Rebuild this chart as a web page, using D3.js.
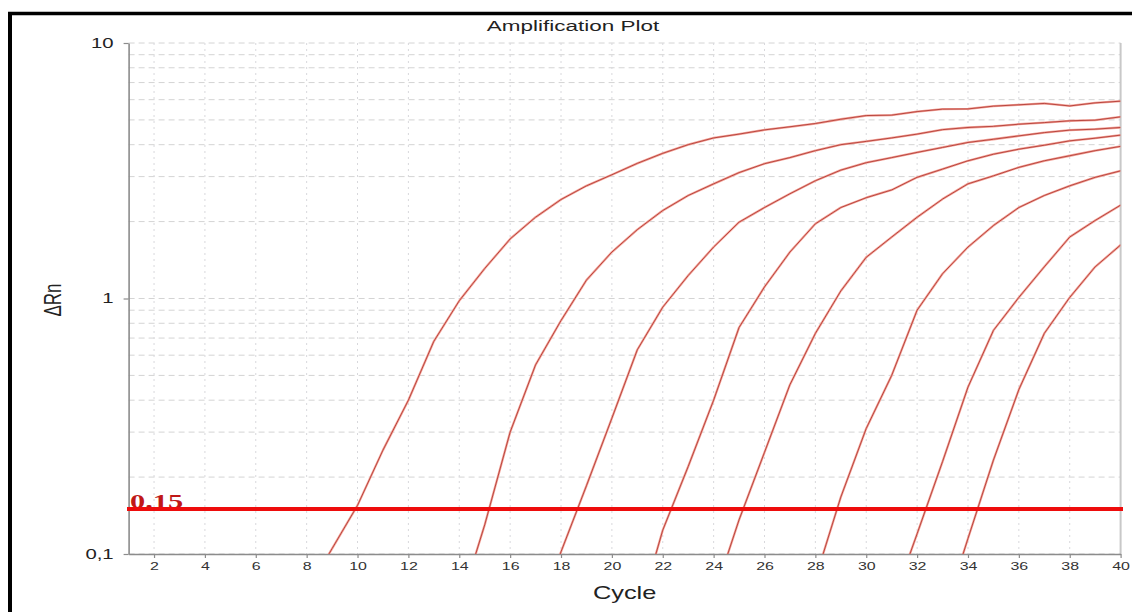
<!DOCTYPE html>
<html><head><meta charset="utf-8">
<script src="https://cdn.jsdelivr.net/npm/d3@7"></script>
<style>body{margin:0;background:#fff}svg{display:block}</style>
</head><body><svg id="c" width="1132" height="612"></svg>
<script>
// ---- data ----
const chartTitle = "Amplification Plot";
const xLabel = "Cycle";
const yLabel = "ΔRn";
const xTicks = [2,4,6,8,10,12,14,16,18,20,22,24,26,28,30,32,34,36,38,40];
const yTicks = [0.1, 1, 10];
const yTickLabels = ["0,1", "1", "10"];
const threshold = 0.15;
const thresholdLabel = "0.15";
const startCycles = [8, 14, 17, 21, 24, 28, 31, 33];
const well1 = [0.071,0.105,0.155,0.255,0.40,0.68,0.98,1.31,1.71,2.08,2.44,2.76,3.05,3.38,3.70,4.00,4.25,4.40,4.57,4.70,4.84,5.03,5.20,5.22,5.39,5.51,5.52,5.66,5.73,5.80,5.67,5.83,5.92];
const well2 = [0.062,0.13,0.30,0.55,0.82,1.18,1.52,1.86,2.21,2.53,2.81,3.11,3.37,3.56,3.79,4.00,4.12,4.25,4.40,4.58,4.67,4.72,4.81,4.88,4.96,4.99,5.14];
const well3 = [0.055,0.102,0.185,0.34,0.63,0.925,1.23,1.59,1.99,2.27,2.57,2.89,3.18,3.40,3.56,3.73,3.90,4.08,4.20,4.33,4.46,4.56,4.60,4.67];
const well4 = [0.056,0.124,0.22,0.40,0.77,1.11,1.52,1.96,2.27,2.48,2.66,2.98,3.21,3.46,3.67,3.84,3.98,4.14,4.24,4.36];
const well5 = [0.068,0.136,0.25,0.46,0.73,1.07,1.45,1.74,2.08,2.45,2.81,3.02,3.26,3.46,3.62,3.79,3.94];
const well6 = [0.08,0.167,0.31,0.50,0.90,1.25,1.59,1.93,2.27,2.53,2.76,2.98,3.16];
const well7 = [0.063,0.12,0.23,0.45,0.75,1.01,1.33,1.74,2.02,2.32];
const well8 = [0.056,0.115,0.233,0.44,0.73,1.01,1.33,1.62];
const wells = [well1, well2, well3, well4, well5, well6, well7, well8];

// ---- layout ----
const SX = 1.45; // horizontal text stretch of the original
const svg = d3.select("#c");
const L = 128.6, R = 1120.6, T = 43, B = 554;
const x = d3.scaleLinear().domain([1, 40]).range([L, R]);
const y = d3.scaleLog().domain([0.1, 10]).range([B, T]);
const font = "'Liberation Sans', Arial, sans-serif";

// frame
svg.append("line").attr("x1", 8).attr("x2", 1140).attr("y1", 13.5).attr("y2", 13.5)
  .attr("stroke", "#000").attr("stroke-width", 3.5);
svg.append("line").attr("x1", 10).attr("x2", 10).attr("y1", 12).attr("y2", 620)
  .attr("stroke", "#000").attr("stroke-width", 4);

// title
svg.append("text").attr("transform", `translate(573,31) scale(${SX},1)`)
  .attr("text-anchor", "middle").attr("font-family", font).attr("font-size", 15.5)
  .attr("fill", "#222").text(chartTitle);

// grids
const g = svg.append("g");
g.selectAll("line.hg").data(y.ticks()).join("line").attr("class", "hg")
  .attr("x1", L).attr("x2", R).attr("y1", d => y(d)).attr("y2", d => y(d))
  .attr("stroke", "#d4d4d4").attr("stroke-width", 1).attr("stroke-dasharray", "6,4");
g.selectAll("line.vg").data(xTicks.slice(0, -1)).join("line").attr("class", "vg")
  .attr("x1", d => x(d)).attr("x2", d => x(d)).attr("y1", T).attr("y2", B)
  .attr("stroke", "#d8d8dc").attr("stroke-width", 1).attr("stroke-dasharray", "2,4");

// right edge
svg.append("line").attr("x1", R).attr("x2", R).attr("y1", T).attr("y2", B)
  .attr("stroke", "#c8c8c8").attr("stroke-width", 2);

// x axis
const xAxis = svg.append("g").attr("transform", `translate(0,${B})`)
  .call(d3.axisBottom(x).tickValues(xTicks).tickSize(4).tickSizeOuter(0).tickPadding(4).tickFormat(d3.format("d")));
xAxis.select(".domain").attr("stroke", "#8c8c8c").attr("stroke-width", 1.5);
xAxis.selectAll(".tick line").attr("stroke", "#8c8c8c").attr("stroke-width", 1.2);
xAxis.selectAll(".tick text").attr("font-family", font).attr("font-size", 11).attr("fill", "#333")
  .attr("transform", `scale(${SX},1)`);

// y axis
const yAxis = svg.append("g").attr("transform", `translate(${L},0)`)
  .call(d3.axisLeft(y).tickValues(yTicks).tickSize(5).tickSizeOuter(0).tickPadding(0)
    .tickFormat((d, i) => yTickLabels[i]));
yAxis.select(".domain").attr("stroke", "#8c8c8c").attr("stroke-width", 1.6);
yAxis.selectAll(".tick line").attr("stroke", "#8c8c8c").attr("stroke-width", 1.2);
yAxis.selectAll(".tick text").attr("font-family", font).attr("font-size", 14).attr("fill", "#222")
  .attr("x", -15 / SX).attr("transform", `scale(${SX},1)`);

// axis labels
svg.append("text").attr("transform", `translate(${(L + R) / 2},599) scale(${SX},1)`)
  .attr("text-anchor", "middle").attr("font-family", font).attr("font-size", 17.5)
  .attr("fill", "#222").text(xLabel);
svg.append("text").attr("transform", `translate(61,300) scale(${SX},1) rotate(-90)`)
  .attr("text-anchor", "middle").attr("font-family", font).attr("font-size", 17)
  .attr("fill", "#222").text(yLabel);

// clip
svg.append("clipPath").attr("id", "clip").append("rect")
  .attr("x", L).attr("y", T).attr("width", R - L).attr("height", B - T);

// curves
const line = d3.line().x(d => x(d[0])).y(d => y(d[1]));
const series = wells.map((w, i) => w.map((v, k) => [startCycles[i] + k, v]));
const cg = svg.append("g").attr("clip-path", "url(#clip)");
cg.selectAll("path.halo").data(series).join("path").attr("class", "halo")
  .attr("d", line).attr("fill", "none").attr("stroke", "#f3a49a").attr("stroke-width", 2.3)
  .attr("stroke-linejoin", "round");
cg.selectAll("path.core").data(series).join("path").attr("class", "core")
  .attr("d", line).attr("fill", "none").attr("stroke", "#b33c36").attr("stroke-width", 0.9)
  .attr("stroke-linejoin", "round");

// threshold
svg.append("text").attr("transform", `translate(130,508) scale(1.6,1)`)
  .attr("font-family", "'Liberation Serif', 'Times New Roman', serif").attr("font-weight", "bold")
  .attr("font-size", 19).attr("fill", "#c01818").text(thresholdLabel);
svg.append("line").attr("x1", 127).attr("x2", 1123).attr("y1", y(threshold)).attr("y2", y(threshold))
  .attr("stroke", "#ee0c0c").attr("stroke-width", 4);
</script></body></html>
